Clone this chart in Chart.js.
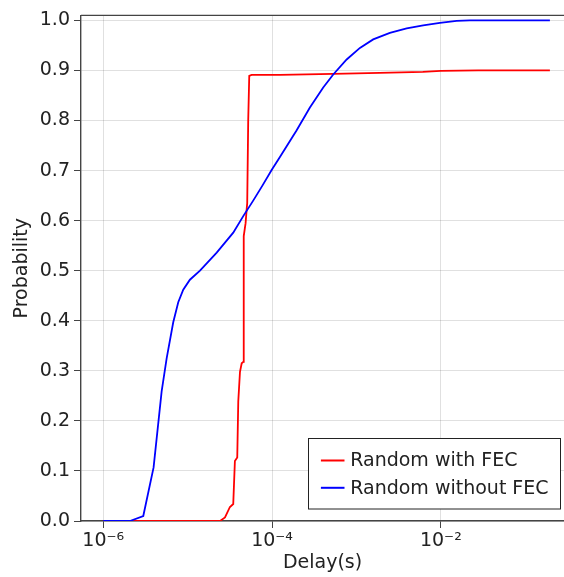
<!DOCTYPE html>
<html>
<head>
<meta charset="utf-8">
<script src="https://cdn.jsdelivr.net/npm/chart.js@4.4.0/dist/chart.umd.min.js"></script>
<style>
  html, body { margin: 0; padding: 0; background: #fff; overflow: hidden; }
</style>
</head>
<body>
<canvas id="myChart" width="564" height="577"></canvas>
<script>
// series names, in the order matplotlib drew them
const seriesLabels = ['Random with FEC', 'Random without FEC'];
const seriesColors = ['#ff0000', '#0000ff'];

// Random with FEC: delay (s) and cumulative probability
const fecDelay = [1.0e-6, 2.42e-5, 2.77e-5, 3.17e-5, 3.47e-5, 3.63e-5, 3.87e-5, 3.98e-5,
  4.17e-5, 4.37e-5, 4.56e-5, 4.56e-5, 4.65e-5, 4.65e-5, 4.86e-5, 5.0e-5, 5.08e-5,
  5.22e-5, 5.37e-5, 5.73e-5, 1.24e-4, 5.31e-4, 1.88e-3, 6.12e-3, 1.0e-2, 2.77e-2, 0.196];
const fecProb = [0, 0, 0.007, 0.028, 0.034, 0.12, 0.127, 0.239,
  0.298, 0.315, 0.318, 0.338, 0.437, 0.569, 0.595, 0.622, 0.635,
  0.80, 0.889, 0.891, 0.891, 0.893, 0.895, 0.897, 0.899, 0.900, 0.900];

// Random without FEC
const noFecDelay = [1.0e-6, 2.07e-6, 2.98e-6, 3.95e-6, 4.92e-6, 5.64e-6, 6.75e-6, 7.74e-6,
  8.87e-6, 1.064e-5, 1.40e-5, 2.21e-5, 3.47e-5, 4.56e-5, 5.98e-5, 7.69e-5, 9.89e-5, 1.24e-4,
  1.95e-4, 2.81e-4, 4.04e-4, 5.31e-4, 7.66e-4, 1.10e-3, 1.58e-3, 2.49e-3, 3.94e-3,
  6.18e-3, 9.75e-3, 1.54e-2, 2.21e-2, 0.196];
const noFecProb = [0, 0, 0.01, 0.107, 0.259, 0.325, 0.397, 0.437,
  0.462, 0.482, 0.500, 0.536, 0.576, 0.609, 0.640, 0.670, 0.701, 0.727,
  0.780, 0.826, 0.866, 0.892, 0.922, 0.945, 0.962, 0.975, 0.984,
  0.990, 0.995, 0.999, 1.0, 1.0];

const xTicks = [1e-6, 1e-4, 1e-2];
const xTickLabels = ['10\u207B\u2076', '10\u207B\u2074', '10\u207B\u00B2'];
const yTicks = [0, 0.1, 0.2, 0.3, 0.4, 0.5, 0.6, 0.7, 0.8, 0.9, 1.0];

const FONT = 'DejaVu Sans';
const INK = '#222';
const SPINE = '#444';

function points(xs, ys) {
  return xs.map((x, i) => ({ x: x, y: ys[i] }));
}

// top spine + lower-right legend box, like the matplotlib figure
const frameAndLegend = {
  id: 'frameAndLegend',
  afterDatasetsDraw(chart) {
    const { ctx, chartArea } = chart;
    ctx.save();
    ctx.strokeStyle = SPINE;
    ctx.lineWidth = 1.4;
    ctx.beginPath();
    ctx.moveTo(chartArea.left, chartArea.top);
    ctx.lineTo(chartArea.right, chartArea.top);
    ctx.stroke();

    const x0 = chartArea.right - 255.5, y0 = chartArea.bottom - 82.5;
    ctx.fillStyle = '#fff';
    ctx.fillRect(x0, y0, 252, 70.5);
    ctx.strokeStyle = '#222';
    ctx.lineWidth = 1;
    ctx.strokeRect(x0, y0, 252, 70.5);
    ctx.font = '19px "' + FONT + '"';
    ctx.textBaseline = 'middle';
    chart.data.datasets.forEach((ds, i) => {
      const y = y0 + 22 + i * 27.3;
      ctx.strokeStyle = ds.borderColor;
      ctx.lineWidth = 2;
      ctx.beginPath();
      ctx.moveTo(x0 + 12.4, y);
      ctx.lineTo(x0 + 36, y);
      ctx.stroke();
      ctx.fillStyle = INK;
      ctx.fillText(ds.label, x0 + 41.7, y + 1);
    });
    ctx.restore();
  }
};

const ctx = document.getElementById('myChart').getContext('2d');
new Chart(ctx, {
  type: 'scatter',
  data: {
    datasets: [
      { label: seriesLabels[0], data: points(fecDelay, fecProb), borderColor: seriesColors[0],
        showLine: true, borderWidth: 1.8, pointRadius: 0, tension: 0, order: 1 },
      { label: seriesLabels[1], data: points(noFecDelay, noFecProb), borderColor: seriesColors[1],
        showLine: true, borderWidth: 1.8, pointRadius: 0, tension: 0, order: 0 }
    ]
  },
  options: {
    responsive: false,
    animation: false,
    events: [],
    layout: { padding: { top: 11, right: 0, left: 0, bottom: 0 } },
    plugins: { legend: { display: false }, tooltip: { enabled: false } },
    scales: {
      x: {
        type: 'logarithmic',
        min: 5.45e-7,
        max: 0.288,
        afterBuildTicks: (scale) => { scale.ticks = xTicks.map(v => ({ value: v, major: true })); },
        afterFit: (scale) => { scale.height = 56; },
        ticks: {
          autoSkip: false, maxRotation: 0, padding: 2,
          font: { family: FONT, size: 19 }, color: INK,
          callback: (v, i) => xTickLabels[i]
        },
        grid: { color: 'rgba(0,0,0,0.12)', tickColor: SPINE, tickLength: 7, lineWidth: 1 },
        border: { display: true, color: SPINE, width: 1.4 },
        title: { display: true, text: 'Delay(s)', font: { family: FONT, size: 19 }, color: INK,
          padding: { top: 0, bottom: 3 } }
      },
      y: {
        min: 0,
        max: 1.01,
        afterBuildTicks: (scale) => { scale.ticks = yTicks.map(v => ({ value: v })); },
        afterFit: (scale) => { scale.width = 81; },
        ticks: {
          padding: 4, font: { family: FONT, size: 19 }, color: INK,
          callback: (v) => v.toFixed(1)
        },
        grid: { color: 'rgba(0,0,0,0.12)', tickColor: SPINE, tickLength: 7, lineWidth: 1 },
        border: { display: true, color: SPINE, width: 1.4 },
        title: { display: true, text: 'Probability', font: { family: FONT, size: 19 }, color: INK,
          padding: { top: 11, bottom: 0 } }
      }
    }
  },
  plugins: [frameAndLegend]
});
</script>
</body>
</html>
